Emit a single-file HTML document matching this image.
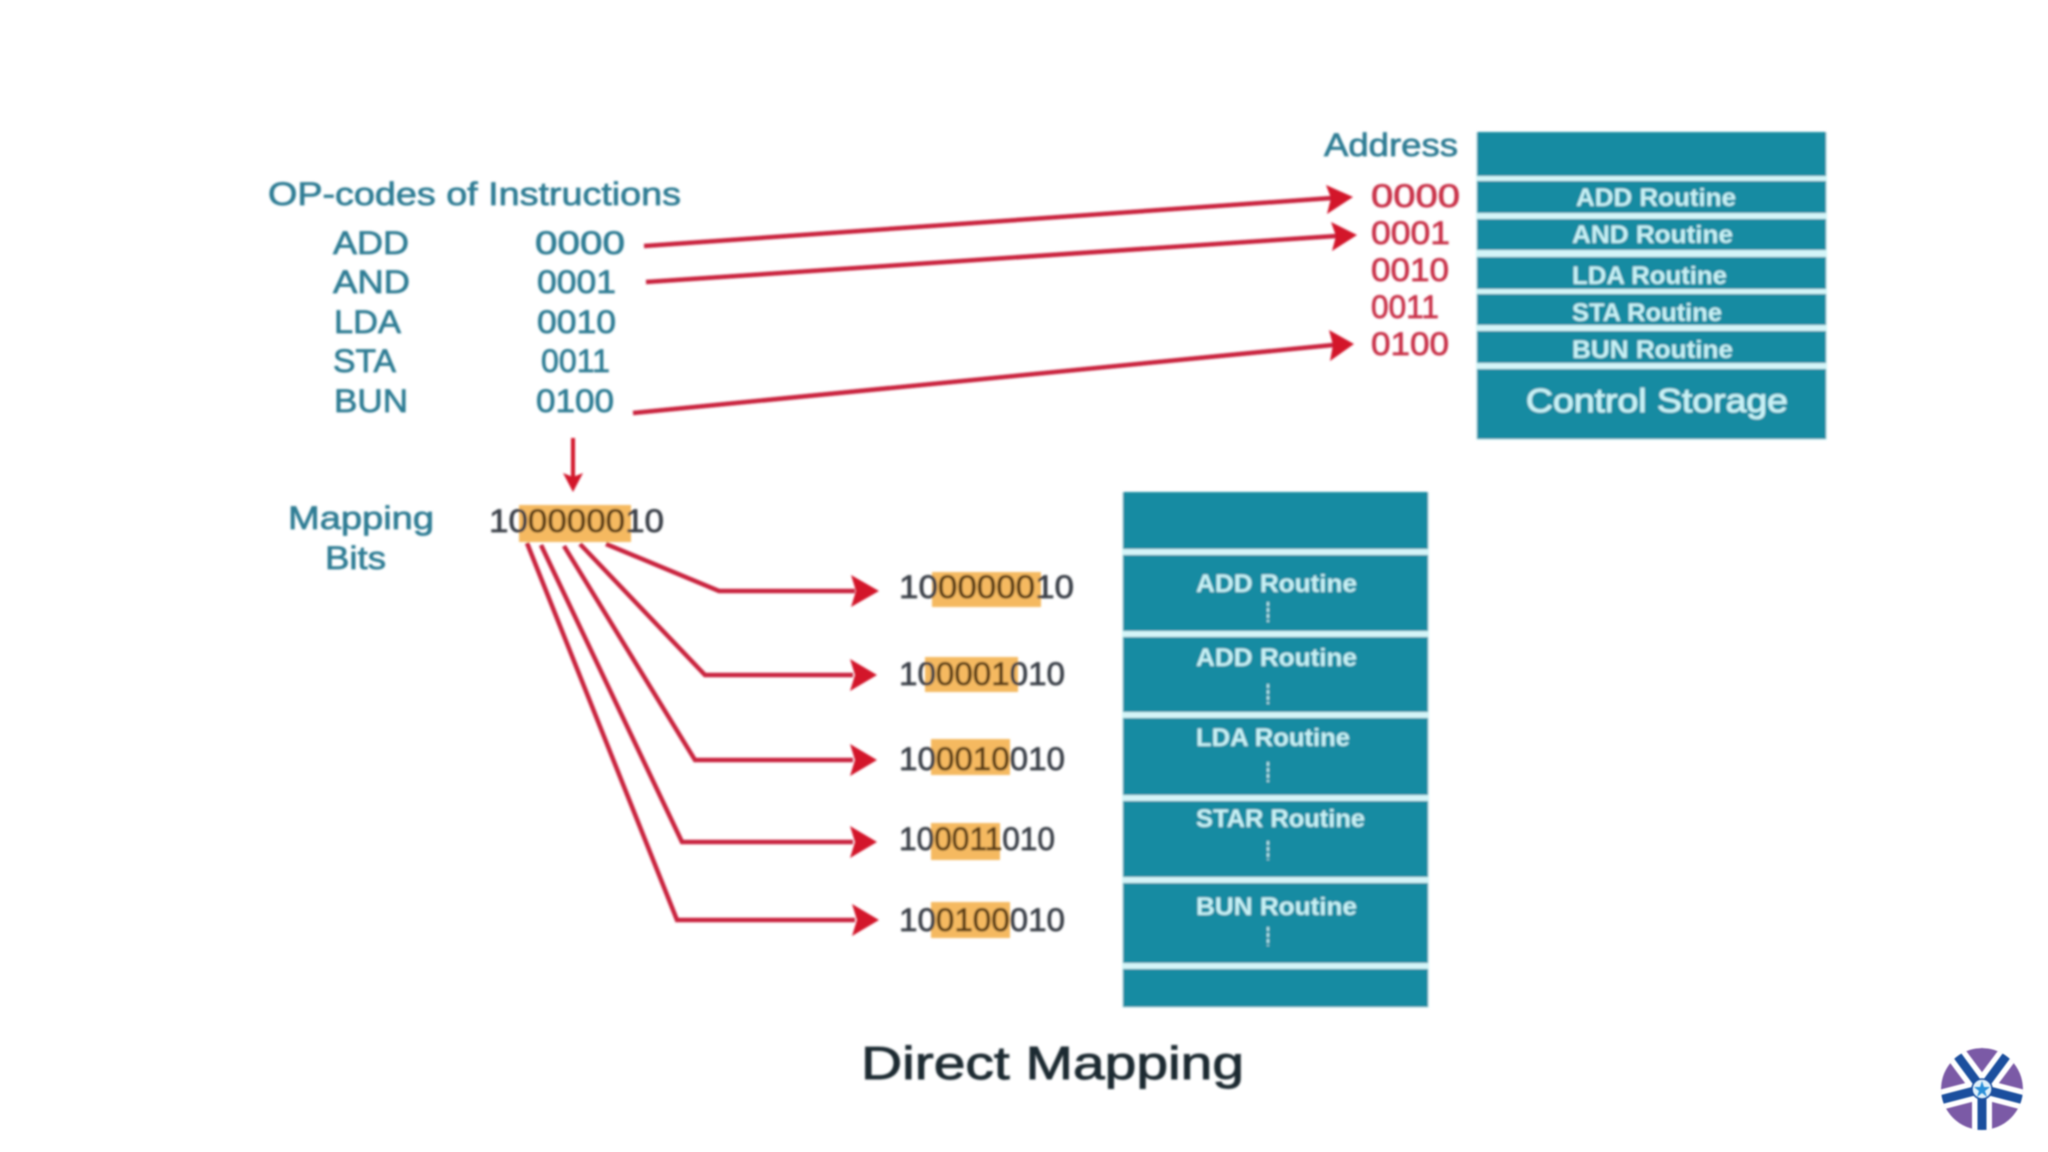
<!DOCTYPE html>
<html>
<head>
<meta charset="utf-8">
<title>Direct Mapping</title>
<style>
html,body{margin:0;padding:0;background:#fff;width:2048px;height:1152px;overflow:hidden}
svg{display:block}
text{font-family:"Liberation Sans",sans-serif}
.t{fill:#2f7d94;font-size:32px;stroke:#2f7d94;stroke-width:.7px}
.r{fill:#c9324a;font-size:32px;stroke:#c9324a;stroke-width:.7px}
.k{fill:#3b4148;font-size:32px;stroke:#3b4148;stroke-width:.7px}
.k tspan{fill:#5c3d12;stroke:#5c3d12}
.w{fill:#c8f2f6;font-size:25px;font-weight:bold}
.s{fill:#178ba2}
.g{fill:#d4f5f8}
.h{fill:#f5b961}
.l{fill:none;stroke:#c9203c;stroke-width:4.5;stroke-linejoin:miter}
.a{fill:#d3132c}
.d{stroke:#bdeef3;stroke-width:2;stroke-dasharray:4 2}
</style>
</head>
<body>
<svg width="2048" height="1152" viewBox="0 0 2048 1152" xmlns="http://www.w3.org/2000/svg">
<defs>
<filter id="b" x="-2%" y="-2%" width="104%" height="104%"><feGaussianBlur stdDeviation="1.1"/></filter>
<clipPath id="c"><circle cx="1982" cy="1089" r="41"/></clipPath>
</defs>
<rect width="2048" height="1152" fill="#fff"/>
<g filter="url(#b)">
<!-- left labels -->
<text class="t" x="268" y="205" textLength="413" lengthAdjust="spacingAndGlyphs">OP-codes of Instructions</text>
<text class="t" x="333" y="254" textLength="76" lengthAdjust="spacingAndGlyphs">ADD</text>
<text class="t" x="333" y="293" textLength="77" lengthAdjust="spacingAndGlyphs">AND</text>
<text class="t" x="334" y="333" textLength="67" lengthAdjust="spacingAndGlyphs">LDA</text>
<text class="t" x="333" y="372" textLength="63" lengthAdjust="spacingAndGlyphs">STA</text>
<text class="t" x="334" y="412" textLength="74" lengthAdjust="spacingAndGlyphs">BUN</text>
<text class="t" x="535" y="254" textLength="90" lengthAdjust="spacingAndGlyphs">0000</text>
<text class="t" x="537" y="293" textLength="79" lengthAdjust="spacingAndGlyphs">0001</text>
<text class="t" x="537" y="333" textLength="79" lengthAdjust="spacingAndGlyphs">0010</text>
<text class="t" x="541" y="372" textLength="69" lengthAdjust="spacingAndGlyphs">0011</text>
<text class="t" x="536" y="412" textLength="78" lengthAdjust="spacingAndGlyphs">0100</text>
<text class="t" x="288" y="529" textLength="146" lengthAdjust="spacingAndGlyphs">Mapping</text>
<text class="t" x="325" y="569" textLength="61" lengthAdjust="spacingAndGlyphs">Bits</text>
<text class="t" x="1324" y="156" textLength="134" lengthAdjust="spacingAndGlyphs">Address</text>
<!-- red addresses -->
<text class="r" x="1371" y="207" textLength="89" lengthAdjust="spacingAndGlyphs">0000</text>
<text class="r" x="1371" y="244" textLength="79" lengthAdjust="spacingAndGlyphs">0001</text>
<text class="r" x="1371" y="281" textLength="78" lengthAdjust="spacingAndGlyphs">0010</text>
<text class="r" x="1371" y="318" textLength="68" lengthAdjust="spacingAndGlyphs">0011</text>
<text class="r" x="1371" y="355" textLength="78" lengthAdjust="spacingAndGlyphs">0100</text>
<!-- stack gaps -->
<rect class="g" x="1476" y="132" width="351" height="308"/>
<rect class="g" x="1122" y="492" width="307" height="516"/>
<!-- top stack -->
<rect class="s" x="1477" y="132" width="349" height="44"/>
<rect class="s" x="1477" y="181" width="349" height="32"/>
<rect class="s" x="1477" y="219" width="349" height="31"/>
<rect class="s" x="1477" y="257" width="349" height="32"/>
<rect class="s" x="1477" y="294" width="349" height="31"/>
<rect class="s" x="1477" y="331" width="349" height="32"/>
<rect class="s" x="1477" y="369" width="349" height="70"/>
<text class="w" x="1576" y="206" textLength="160" lengthAdjust="spacingAndGlyphs">ADD Routine</text>
<text class="w" x="1572" y="243" textLength="161" lengthAdjust="spacingAndGlyphs">AND Routine</text>
<text class="w" x="1572" y="284" textLength="155" lengthAdjust="spacingAndGlyphs">LDA Routine</text>
<text class="w" x="1572" y="321" textLength="150" lengthAdjust="spacingAndGlyphs">STA Routine</text>
<text class="w" x="1572" y="358" textLength="161" lengthAdjust="spacingAndGlyphs">BUN Routine</text>
<text class="w" x="1526" y="412" textLength="262" lengthAdjust="spacingAndGlyphs" style="font-size:33px;font-weight:normal;stroke:#c8f2f6;stroke-width:.8px">Control Storage</text>
<!-- bottom stack -->
<rect class="s" x="1123" y="492" width="305" height="57"/>
<rect class="s" x="1123" y="555" width="305" height="76"/>
<rect class="s" x="1123" y="637" width="305" height="75"/>
<rect class="s" x="1123" y="718" width="305" height="77"/>
<rect class="s" x="1123" y="801" width="305" height="76"/>
<rect class="s" x="1123" y="883" width="305" height="80"/>
<rect class="s" x="1123" y="969" width="305" height="38"/>
<text class="w" x="1196" y="592" textLength="161" lengthAdjust="spacingAndGlyphs">ADD Routine</text>
<text class="w" x="1196" y="666" textLength="161" lengthAdjust="spacingAndGlyphs">ADD Routine</text>
<text class="w" x="1196" y="746" textLength="154" lengthAdjust="spacingAndGlyphs">LDA Routine</text>
<text class="w" x="1196" y="827" textLength="169" lengthAdjust="spacingAndGlyphs">STAR Routine</text>
<text class="w" x="1196" y="915" textLength="161" lengthAdjust="spacingAndGlyphs">BUN Routine</text>
<line class="d" x1="1268" y1="602" x2="1268" y2="622"/>
<line class="d" x1="1268" y1="684" x2="1268" y2="704"/>
<line class="d" x1="1268" y1="762" x2="1268" y2="782"/>
<line class="d" x1="1268" y1="841" x2="1268" y2="860"/>
<line class="d" x1="1268" y1="927" x2="1268" y2="946"/>
<!-- highlights -->
<rect class="h" x="519" y="505" width="112" height="37"/>
<rect class="h" x="932" y="572" width="109" height="35"/>
<rect class="h" x="925" y="657" width="93" height="35"/>
<rect class="h" x="931" y="739" width="79" height="36"/>
<rect class="h" x="931" y="823" width="69" height="37"/>
<rect class="h" x="931" y="902" width="79" height="36"/>
<!-- numbers -->
<text class="k" x="489" y="532" textLength="175" lengthAdjust="spacingAndGlyphs">10<tspan>00000</tspan>10</text>
<text class="k" x="899" y="598" textLength="175" lengthAdjust="spacingAndGlyphs">10<tspan>00000</tspan>10</text>
<text class="k" x="899" y="685" textLength="166" lengthAdjust="spacingAndGlyphs">10<tspan>0001</tspan>010</text>
<text class="k" x="899" y="770" textLength="166" lengthAdjust="spacingAndGlyphs">10<tspan>0010</tspan>010</text>
<text class="k" x="899" y="850" textLength="156" lengthAdjust="spacingAndGlyphs">10<tspan>0011</tspan>010</text>
<text class="k" x="899" y="931" textLength="166" lengthAdjust="spacingAndGlyphs">10<tspan>0100</tspan>010</text>
<!-- top connectors -->
<line class="l" x1="644" y1="246" x2="1332" y2="198"/>
<polygon class="a" points="1353,197 1326,185 1331,198 1327,214"/>
<line class="l" x1="646" y1="282" x2="1336" y2="236"/>
<polygon class="a" points="1357,235 1331,222 1336,236 1332,251"/>
<line class="l" x1="633" y1="413" x2="1333" y2="345"/>
<polygon class="a" points="1354,344 1329,330 1333,345 1330,361"/>
<line x1="573" y1="438" x2="573" y2="478" stroke="#d3132c" stroke-width="4"/>
<polygon class="a" points="573,492 563,473 573,477 583,473"/>
<!-- mapping connectors -->
<polyline class="l" points="606,544 719,591 855,591"/>
<polygon class="a" points="879,591 851,575 856,591 851,607"/>
<polyline class="l" points="580,544 705,675 853,675"/>
<polygon class="a" points="877,675 850,659 855,675 850,691"/>
<polyline class="l" points="564,546 695,760 853,760"/>
<polygon class="a" points="877,760 850,744 855,760 850,776"/>
<polyline class="l" points="541,545 682,842 853,842"/>
<polygon class="a" points="877,842 850,826 855,842 850,858"/>
<polyline class="l" points="527,543 677,920 855,920"/>
<polygon class="a" points="879,920 852,904 857,920 852,936"/>
<!-- title -->
<text x="861" y="1079" textLength="383" lengthAdjust="spacingAndGlyphs" style="font-size:46px;fill:#1f2a33;stroke:#1f2a33;stroke-width:.9px">Direct Mapping</text>
</g>
<!-- logo -->
<g style="filter:blur(.7px)">
<g clip-path="url(#c)">
<circle cx="1982" cy="1089" r="41" fill="#7b5aa6"/>
<g stroke="#fff" stroke-width="20" fill="none">
<line x1="1982" y1="1089" x2="1950" y2="1046"/>
<line x1="1982" y1="1089" x2="2014" y2="1046"/>
<line x1="1982" y1="1089" x2="1932" y2="1102"/>
<line x1="1982" y1="1089" x2="2032" y2="1102"/>
<line x1="1982" y1="1089" x2="1982" y2="1140"/>
</g>
<g stroke="#1b4f9e" stroke-width="9" fill="none">
<line x1="1982" y1="1089" x2="1954" y2="1051"/>
<line x1="1982" y1="1089" x2="2010" y2="1051"/>
<line x1="1982" y1="1089" x2="1936" y2="1101"/>
<line x1="1982" y1="1089" x2="2028" y2="1101"/>
<line x1="1982" y1="1089" x2="1982" y2="1140"/>
</g>
</g>
<circle cx="1982" cy="1089" r="10" fill="#dff1fb" stroke="#1b4f9e" stroke-width="1.5"/>
<polygon points="1982,1081 1984,1087 1990,1087 1985,1091 1987,1097 1982,1093 1977,1097 1979,1091 1974,1087 1980,1087" fill="#2a8fd8"/>
</g>
</svg>
</body>
</html>
